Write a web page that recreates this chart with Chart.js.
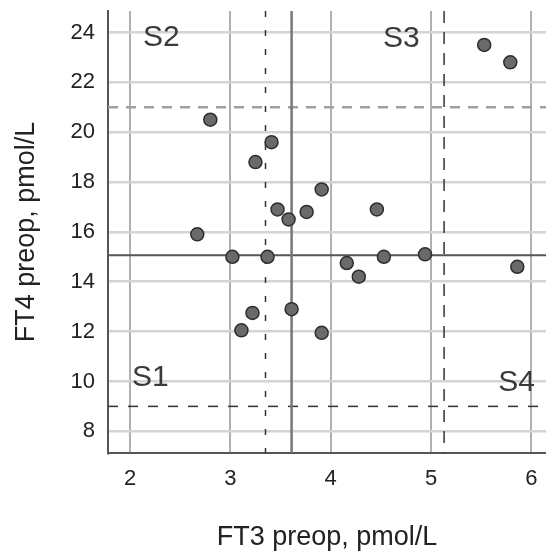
<!DOCTYPE html>
<html>
<head>
<meta charset="utf-8">
<script src="https://cdn.jsdelivr.net/npm/chart.js@4/dist/chart.umd.min.js"></script>
<style>
  html, body { margin: 0; padding: 0; background: #fff; overflow: hidden; }
  #wrap { width: 546px; height: 556px; }
</style>
</head>
<body>
<div id="wrap"><canvas id="chart"></canvas></div>
<script>
// data
var ft3 = [5.53, 5.79, 2.80, 3.41, 3.25, 3.91, 3.47, 3.76, 4.46, 3.58, 2.67,
           3.02, 3.37, 4.53, 4.94, 4.16, 4.28, 5.86, 3.61, 3.22, 3.11, 3.91];
var ft4 = [23.5, 22.8, 20.5, 19.6, 18.8, 17.7, 16.9, 16.8, 16.9, 16.5, 15.9,
           15.0, 15.0, 15.0, 15.1, 14.75, 14.2, 14.6, 12.9, 12.75, 12.05, 11.95];

var hRefValues = [15.06, 21, 9];      // FT4 reference lines
var vRefValues = [3.61, 3.35, 5.13];  // FT3 reference lines
var quadrantLabels = ['S1', 'S2', 'S3', 'S4'];

var xTitle = 'FT3 preop, pmol/L';
var yTitle = 'FT4 preop, pmol/L';

var points = ft3.map(function (v, i) { return { x: v, y: ft4[i] }; });

// styles for the reference lines, same order as the value arrays
var hRefStyle = [
    { color: '#555', width: 2, dash: [] },
    { color: '#a0a0a0', width: 2.5, dash: [10, 8] },
    { color: '#333', width: 1.5, dash: [10, 10] }
];
var vRefStyle = [
    { color: '#777', width: 2.5, dash: [] },
    { color: '#333', width: 1.5, dash: [6, 13] },
    { color: '#333', width: 1.5, dash: [12, 9] }
];
// anchor of each quadrant label, data units (left / baseline)
var labelAnchors = [[2.02, 9.8], [2.13, 23.45], [4.52, 23.4], [5.67, 9.62]];

var refLines = {
    id: 'refLines',
    beforeDatasetsDraw: function (chart) {
        var ctx = chart.ctx, a = chart.chartArea;
        var x = chart.scales.x, y = chart.scales.y;
        ctx.save();
        hRefValues.forEach(function (v, i) {
            var s = hRefStyle[i], py = y.getPixelForValue(v);
            ctx.strokeStyle = s.color; ctx.lineWidth = s.width; ctx.setLineDash(s.dash);
            ctx.beginPath(); ctx.moveTo(a.left, py); ctx.lineTo(a.right, py); ctx.stroke();
        });
        vRefValues.forEach(function (v, i) {
            var s = vRefStyle[i], px = x.getPixelForValue(v);
            ctx.strokeStyle = s.color; ctx.lineWidth = s.width; ctx.setLineDash(s.dash);
            ctx.beginPath(); ctx.moveTo(px, a.top); ctx.lineTo(px, a.bottom); ctx.stroke();
        });
        ctx.setLineDash([]);
        ctx.fillStyle = '#3a3a3a';
        ctx.font = '30px "Liberation Sans", Arial, sans-serif';
        ctx.textAlign = 'left';
        ctx.textBaseline = 'alphabetic';
        quadrantLabels.forEach(function (t, i) {
            ctx.fillText(t, x.getPixelForValue(labelAnchors[i][0]), y.getPixelForValue(labelAnchors[i][1]));
        });
        ctx.restore();
    }
};

var font = '"Liberation Sans", Arial, sans-serif';

new Chart(document.getElementById('chart'), {
    type: 'scatter',
    data: {
        datasets: [{
            data: points,
            backgroundColor: '#6a6a6a',
            borderColor: '#2e2e2e',
            borderWidth: 1.5,
            pointRadius: 6.5,
            pointHoverRadius: 6.5
        }]
    },
    options: {
        responsive: true,
        maintainAspectRatio: false,
        animation: false,
        layout: { autoPadding: false, padding: { top: 11, right: 0, left: 0, bottom: 0 } },
        plugins: { legend: { display: false }, tooltip: { enabled: false } },
        scales: {
            x: {
                type: 'linear',
                min: 1.78,
                max: 6.146,
                afterFit: function (s) {
                    s.height = 103;
                    s.paddingLeft = 0; s.paddingRight = 0;
                },
                border: { color: '#555', width: 2 },
                grid: { color: '#b0b0b0', lineWidth: 2, drawTicks: false },
                ticks: {
                    stepSize: 1, includeBounds: false, padding: 13,
                    color: '#222', font: { family: font, size: 22 }
                },
                title: {
                    display: true, text: xTitle, color: '#222',
                    font: { family: font, size: 27 }, padding: { bottom: 2 }
                }
            },
            y: {
                type: 'linear',
                min: 7.13,
                max: 24.86,
                afterFit: function (s) {
                    s.width = 108;
                    s.paddingTop = 0; s.paddingBottom = 0;
                },
                border: { color: '#555', width: 2 },
                grid: { color: '#d4d4d4', lineWidth: 2.5, drawTicks: false },
                ticks: {
                    stepSize: 2, includeBounds: false, padding: 13,
                    color: '#222', font: { family: font, size: 22 }
                },
                title: {
                    display: true, text: yTitle, color: '#222',
                    font: { family: font, size: 27 }, padding: { top: 10 }
                }
            }
        }
    },
    plugins: [refLines]
});
</script>
</body>
</html>
